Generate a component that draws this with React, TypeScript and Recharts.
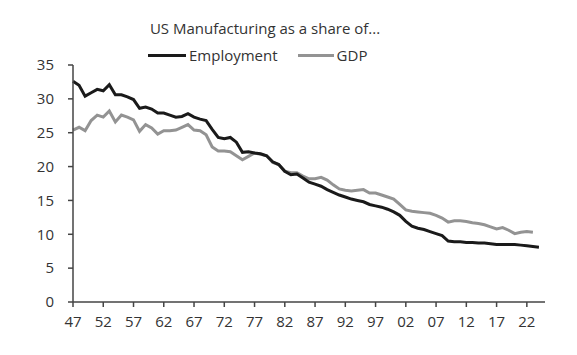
import { LineChart, Line, XAxis, YAxis } from "recharts"

const years = Array.from({ length: 78 }, (_, i) => 1947 + i)

// manufacturing share of total employment, %
const employment = [
  32.6, 32.0, 30.4, 30.9, 31.4, 31.2, 32.1, 30.6, 30.6, 30.3,
  29.9, 28.6, 28.8, 28.5, 27.9, 27.9, 27.6, 27.3, 27.4, 27.8,
  27.3, 27.0, 26.8, 25.5, 24.3, 24.1, 24.3, 23.6, 22.1, 22.2,
  22.0, 21.9, 21.6, 20.7, 20.3, 19.3, 18.8, 18.9, 18.3, 17.7,
  17.4, 17.1, 16.6, 16.2, 15.8, 15.5, 15.2, 15.0, 14.8, 14.4,
  14.2, 14.0, 13.7, 13.3, 12.8, 11.9, 11.2, 10.9, 10.7, 10.4,
  10.1, 9.8, 9.0, 8.9, 8.9, 8.8, 8.8, 8.7, 8.7, 8.6,
  8.5, 8.5, 8.5, 8.5, 8.4, 8.3, 8.2, 8.1,
]

// manufacturing share of GDP, % (ends 2023)
const gdp = [
  25.4, 25.8, 25.3, 26.8, 27.6, 27.3, 28.2, 26.6, 27.6, 27.3,
  26.9, 25.2, 26.2, 25.7, 24.8, 25.3, 25.3, 25.4, 25.8, 26.2,
  25.4, 25.3, 24.7, 22.9, 22.3, 22.3, 22.2, 21.6, 21.0, 21.5,
  22.0, 21.8, 21.6, 20.6, 20.3, 19.3, 19.1, 19.1, 18.6, 18.2,
  18.2, 18.4, 18.0, 17.3, 16.7, 16.5, 16.4, 16.5, 16.6, 16.1,
  16.1, 15.8, 15.5, 15.2, 14.4, 13.6, 13.4, 13.3, 13.2, 13.1,
  12.8, 12.4, 11.8, 12.0, 12.0, 11.9, 11.7, 11.6, 11.4, 11.1,
  10.8, 11.0, 10.6, 10.1, 10.3, 10.4, 10.3,
]

const xTicks = [1947, 1952, 1957, 1962, 1967, 1972, 1977, 1982, 1987, 1992, 1997, 2002, 2007, 2012, 2017, 2022]
const yTicks = [0, 5, 10, 15, 20, 25, 30, 35]

const data = years.map((year, i) => ({
  year,
  employment: employment[i],
  gdp: gdp[i],
}))

const font = "'Open Sans', Lato, sans-serif"
const tickStyle = { fill: "#333", fontSize: 15, fontFamily: font }
const axisColor = "#444"

export default function App() {
  return (
    <div style={{ position: "absolute", left: 0, top: 0, width: 577, height: 355, background: "#fff", fontFamily: font }}>
      <div style={{ position: "absolute", top: 18, left: 0, width: 530, textAlign: "center", fontSize: 15, color: "#333" }}>
        US Manufacturing as a share of...
      </div>
      <div style={{ position: "absolute", top: 45, left: 148, display: "flex", alignItems: "center", fontSize: 15, color: "#333" }}>
        <span style={{ display: "inline-block", width: 38, height: 3, background: "#1a1a1a", marginRight: 3 }} />
        <span>Employment</span>
        <span style={{ display: "inline-block", width: 36, height: 3, background: "#939393", marginLeft: 20, marginRight: 3 }} />
        <span>GDP</span>
      </div>
      <LineChart width={577} height={355} data={data} margin={{ top: 65, right: 32, bottom: 23, left: 0 }}>
        <XAxis
          dataKey="year"
          type="number"
          domain={[1947, 2025]}
          ticks={xTicks}
          tickFormatter={(v: number) => String(v % 100).padStart(2, "0")}
          tick={tickStyle}
          height={30}
          tickSize={5}
          tickMargin={9}
          stroke={axisColor}
          strokeWidth={1.5}
        />
        <YAxis
          domain={[0, 35]}
          ticks={yTicks}
          tick={tickStyle}
          width={73}
          tickSize={5}
          tickMargin={14}
          stroke={axisColor}
          strokeWidth={1.5}
        />
        <Line dataKey="gdp" stroke="#939393" strokeWidth={3} dot={false} isAnimationActive={false} />
        <Line dataKey="employment" stroke="#1a1a1a" strokeWidth={3} dot={false} isAnimationActive={false} />
      </LineChart>
    </div>
  )
}
